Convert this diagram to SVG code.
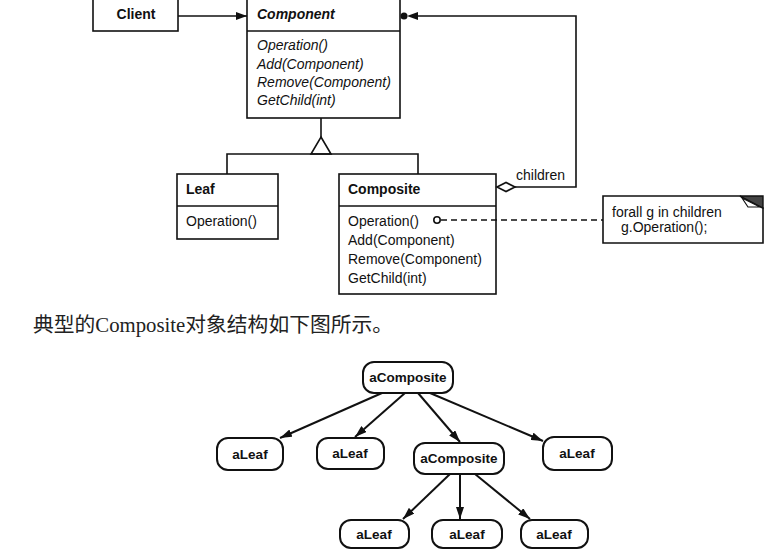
<svg xmlns="http://www.w3.org/2000/svg" width="782" height="553" viewBox="0 0 782 553">
<defs>
<style>
.box{fill:#fff;stroke:#111;stroke-width:1.6}
.ln{fill:none;stroke:#111;stroke-width:1.6}
.t{font-family:"Liberation Sans",Arial,sans-serif;font-size:14px;fill:#111}
.b{font-weight:bold}
.i{font-style:italic}
.node{fill:#fff;stroke:#111;stroke-width:2}
.nt{font-family:"Liberation Sans",Arial,sans-serif;font-size:13.5px;font-weight:bold;fill:#111;text-anchor:middle}
.tree{fill:none;stroke:#111;stroke-width:2;marker-end:url(#ah)}
</style>
<marker id="ah" viewBox="0 0 12 8" refX="12" refY="4" markerWidth="12" markerHeight="8" markerUnits="userSpaceOnUse" orient="auto">
<path d="M0,0 L12,4 L0,8 Z" fill="#111"/>
</marker>
<marker id="ah2" viewBox="0 0 11 8" refX="11" refY="4" markerWidth="11" markerHeight="8" markerUnits="userSpaceOnUse" orient="auto">
<path d="M0,0 L11,4 L0,8 Z" fill="#111"/>
</marker>
</defs>
<rect width="782" height="553" fill="#fff"/>

<g id="client">
<rect class="box" x="93" y="-3" width="85" height="34"/>
<text class="t b" x="136" y="19" text-anchor="middle">Client</text>
</g>

<g id="component">
<rect class="box" x="247" y="-3" width="153" height="121"/>
<line class="ln" x1="247" y1="31" x2="400" y2="31"/>
<text class="t b i" x="257" y="19">Component</text>
<text class="t i" x="257" y="50">Operation()</text>
<text class="t i" x="257" y="69">Add(Component)</text>
<text class="t i" x="257" y="87">Remove(Component)</text>
<text class="t i" x="257" y="105">GetChild(int)</text>
</g>

<g id="leaf">
<rect class="box" x="177" y="174" width="101" height="65"/>
<line class="ln" x1="177" y1="206" x2="278" y2="206"/>
<text class="t b" x="186" y="194">Leaf</text>
<text class="t" x="186" y="226">Operation()</text>
</g>

<g id="composite">
<rect class="box" x="339" y="174" width="157" height="120"/>
<line class="ln" x1="339" y1="206" x2="496" y2="206"/>
<text class="t b" x="348" y="194">Composite</text>
<text class="t" x="348" y="226">Operation()</text>
<text class="t" x="348" y="245">Add(Component)</text>
<text class="t" x="348" y="264">Remove(Component)</text>
<text class="t" x="348" y="283">GetChild(int)</text>
</g>

<g id="children-label">
<text class="t" x="516" y="180">children</text>
</g>

<g id="note">
<path d="M603,196 L740,196 L763,208 L763,243 L603,243 Z" class="box"/>
<path d="M740,196 L763,196 L763,208 Z" fill="#444" stroke="#111" stroke-width="1.4"/>
<path d="M742,198 L748,207 L760,207 Z" fill="#fff" stroke="#111" stroke-width="1.2"/>
<text class="t" x="612" y="217">forall g in children</text>
<text class="t" x="621" y="232">g.Operation();</text>
</g>

<g id="caption">
<text x="33" y="332" font-family="'Liberation Serif','Noto Sans CJK SC',serif" font-size="20" fill="#222" textLength="360" lengthAdjust="spacingAndGlyphs">典型的Composite对象结构如下图所示。</text>
</g>

<g id="aComposite1">
<rect class="node" x="363" y="362" width="90" height="31" rx="11"/>
<text class="nt" x="408" y="382">aComposite</text>
</g>
<g id="aLeaf1">
<rect class="node" x="217" y="438" width="66" height="32" rx="11"/>
<text class="nt" x="250" y="459">aLeaf</text>
</g>
<g id="aLeaf2">
<rect class="node" x="317" y="438" width="67" height="31" rx="11"/>
<text class="nt" x="350" y="458">aLeaf</text>
</g>
<g id="aComposite2">
<rect class="node" x="414" y="443" width="90" height="31" rx="11"/>
<text class="nt" x="459" y="463">aComposite</text>
</g>
<g id="aLeaf4">
<rect class="node" x="543" y="437" width="69" height="33" rx="11"/>
<text class="nt" x="577" y="458">aLeaf</text>
</g>
<g id="aLeaf5">
<rect class="node" x="340" y="520" width="69" height="28" rx="11"/>
<text class="nt" x="374" y="539">aLeaf</text>
</g>
<g id="aLeaf6">
<rect class="node" x="432" y="520" width="70" height="28" rx="11"/>
<text class="nt" x="467" y="539">aLeaf</text>
</g>
<g id="aLeaf7">
<rect class="node" x="521" y="520" width="67" height="28" rx="11"/>
<text class="nt" x="554" y="539">aLeaf</text>
</g>

<g id="connectors">
<line class="ln" x1="178" y1="16" x2="247" y2="16" marker-end="url(#ah2)"/>
<polyline class="ln" points="515,187 576,187 576,16 418,16"/>
<path d="M418,12 L407,16 L418,20 Z" fill="#111"/>
<circle cx="404" cy="16" r="3.5" fill="#111"/>
<path d="M497,187 L506,182.5 L515,187 L506,191.5 Z" fill="#fff" stroke="#111" stroke-width="1.6"/>
<line class="ln" x1="321" y1="118" x2="321" y2="137"/>
<path d="M321,137 L331,154 L311,154 Z" fill="#fff" stroke="#111" stroke-width="1.6"/>
<polyline class="ln" points="227,174 227,154 418,154 418,174"/>
<circle cx="437" cy="220" r="3.2" fill="#fff" stroke="#111" stroke-width="1.6"/>
<line class="ln" x1="441" y1="220" x2="603" y2="220" stroke-dasharray="6,4"/>
<line class="tree" x1="382" y1="393" x2="280" y2="438"/>
<line class="tree" x1="405" y1="393" x2="355" y2="437"/>
<line class="tree" x1="418" y1="393" x2="460" y2="442"/>
<line class="tree" x1="430" y1="393" x2="543" y2="441"/>
<line class="tree" x1="450" y1="474" x2="403" y2="519"/>
<line class="tree" x1="460" y1="474" x2="460" y2="519"/>
<line class="tree" x1="475" y1="474" x2="530" y2="519"/>
</g>
</svg>
